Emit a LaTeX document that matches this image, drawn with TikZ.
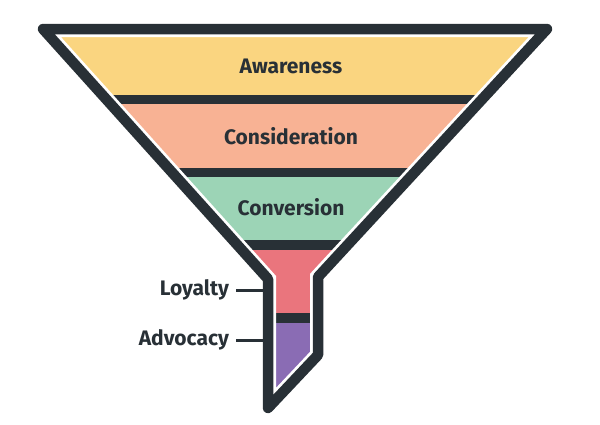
\documentclass[tikz,border=0pt]{standalone}
\usepackage{fontspec}
\setmainfont{Fira Sans}
\definecolor{ink}{RGB}{40,48,54}
\definecolor{awa}{RGB}{250,213,128}
\definecolor{con}{RGB}{248,178,148}
\definecolor{cnv}{RGB}{156,212,182}
\definecolor{loy}{RGB}{234,117,125}
\definecolor{adv}{RGB}{138,108,180}
\begin{document}
\begin{tikzpicture}[x=1pt,y=-1pt,
  lbl/.style={text=ink,font=\fontsize{21}{21}\selectfont\bfseries},
  side/.style={lbl,anchor=east,inner sep=0pt,outer sep=7pt},
  sep/.style={fill=ink}]
\useasboundingbox (0,0) rectangle (600,424);
% funnel corners
\coordinate (tl) at (43,29);
\coordinate (tr) at (547,29);
\coordinate (rs) at (318,277);
\coordinate (rb) at (318,355);
\coordinate (bt) at (268,408);
\coordinate (ls) at (268,279);

\begin{scope}
\clip (tl)--(tr)--(rs)--(rb)--(bt)--(ls)--cycle;
\fill[awa] (0,0) rectangle (600,95);
\fill[sep] (0,95) rectangle (600,104);
\fill[con] (0,104) rectangle (600,168);
\fill[sep] (0,168) rectangle (600,177);
\fill[cnv] (0,177) rectangle (600,240);
\fill[sep] (0,240) rectangle (600,250);
\fill[loy] (0,250) rectangle (600,313);
\fill[sep] (0,313) rectangle (600,323);
\fill[adv] (0,323) rectangle (600,424);
\end{scope}

\draw[white,line width=16] (tl)--(tr)--(rs)--(rb)--(bt)--(ls)--cycle;
\draw[ink,line width=10.5,line join=round] (tl)--(tr)--(rs)--(rb)--(bt)--(ls)--cycle;

\node[lbl] (awareness) at (291,66) {Awareness};
\node[lbl] (consideration) at (291,136) {Consideration};
\node[lbl] (conversion) at (291,207) {Conversion};

\node[side] (loyalty) at (236,290) {Loyalty};
\node[side] (advocacy) at (236,340) {Advocacy};
\coordinate (loyend) at (265,290);
\coordinate (advend) at (265,340);
\draw[ink,line width=3] (loyalty.east)--(loyend);
\draw[ink,line width=3] (advocacy.east)--(advend);
\end{tikzpicture}
\end{document}
